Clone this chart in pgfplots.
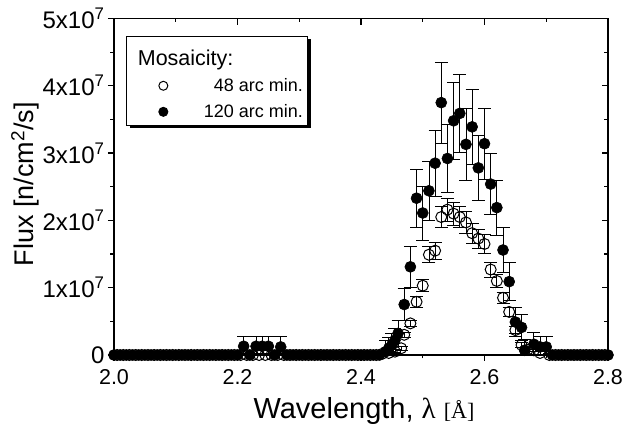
\documentclass[border=0pt]{standalone}
\usepackage{pgfplots}
\pgfplotsset{compat=1.18}
\usepackage{pgfplotstable}
\usepackage{fontspec}
\setmainfont{Liberation Sans}
\newfontfamily\seriffont{Liberation Serif}
\usetikzlibrary{shadows}

% 120 arc min (filled)
\pgfplotstableread{
x y e
2.00 0 3e5
2.01 0 3e5
2.02 0 3e5
2.03 0 3e5
2.04 0 3e5
2.05 0 3e5
2.06 0 3e5
2.07 0 3e5
2.08 0 3e5
2.09 0 3e5
2.10 0 3e5
2.11 0 3e5
2.12 0 3e5
2.13 0 3e5
2.14 0 3e5
2.15 0 3e5
2.16 0 3e5
2.17 0 3e5
2.18 0 3e5
2.19 0 3e5
2.20 0 3e5
2.21 1.3e6 1.5e6
2.22 0 3e5
2.23 1.3e6 1.5e6
2.24 1.3e6 1.5e6
2.25 1.3e6 1.5e6
2.26 0 3e5
2.27 1.2e6 1.5e6
2.28 0 3e5
2.29 0 3e5
2.30 0 3e5
2.31 0 3e5
2.32 0 3e5
2.33 0 3e5
2.34 0 3e5
2.35 0 3e5
2.36 0 3e5
2.37 0 3e5
2.38 0 3e5
2.39 0 3e5
2.40 0 3e5
2.41 0 3e5
2.42 0 3e5
2.43 0 3e5
2.44 5e5 1.6e6
2.445 1.0e6 1.6e6
2.45 1.5e6 1.7e6
2.455 2.2e6 1.8e6
2.46 3.2e6 1.9e6
2.47 7.5e6 2.4e6
2.48 1.31e7 3.1e6
2.49 2.33e7 4.3e6
2.50 2.11e7 4.0e6
2.51 2.44e7 4.4e6
2.52 2.85e7 4.9e6
2.53 3.75e7 6.0e6
2.54 2.92e7 5.0e6
2.55 3.48e7 5.7e6
2.56 3.59e7 5.8e6
2.57 3.13e7 5.3e6
2.58 3.39e7 5.6e6
2.59 2.78e7 4.8e6
2.60 3.14e7 5.3e6
2.61 2.54e7 4.5e6
2.62 2.19e7 4.1e6
2.63 1.56e7 3.4e6
2.64 1.09e7 2.8e6
2.65 4.9e6 2.1e6
2.66 4.1e6 2.0e6
2.665 7e5 1.6e6
2.68 1.6e6 1.7e6
2.69 1.2e6 1.6e6
2.70 1.2e6 1.6e6
2.71 0 3e5
2.72 0 3e5
2.73 0 3e5
2.74 0 3e5
2.75 0 3e5
2.76 0 3e5
2.77 0 3e5
2.78 0 3e5
2.79 0 3e5
2.80 0 3e5
}\filledtab

% 48 arc min (open)
\pgfplotstableread{
x y e
2.005 0 2e5
2.015 0 2e5
2.025 0 2e5
2.035 0 2e5
2.045 0 2e5
2.055 0 2e5
2.065 0 2e5
2.075 0 2e5
2.085 0 2e5
2.095 0 2e5
2.105 0 2e5
2.115 0 2e5
2.125 0 2e5
2.135 0 2e5
2.145 0 2e5
2.155 0 2e5
2.165 0 2e5
2.175 0 2e5
2.185 0 2e5
2.195 0 2e5
2.205 0 2e5
2.215 0 2e5
2.225 0 2e5
2.235 0 2e5
2.245 0 2e5
2.255 0 2e5
2.265 0 2e5
2.275 0 2e5
2.285 0 2e5
2.295 0 2e5
2.305 0 2e5
2.315 0 2e5
2.325 0 2e5
2.335 0 2e5
2.345 0 2e5
2.355 0 2e5
2.365 0 2e5
2.375 0 2e5
2.385 0 2e5
2.395 0 2e5
2.405 0 2e5
2.415 0 2e5
2.425 0 2e5
2.435 2e5 2e5
2.445 3e5 2e5
2.455 5e5 3e5
2.465 1.0e6 3e5
2.47 3.0e6 4e5
2.48 4.7e6 5e5
2.49 7.9e6 8e5
2.50 1.03e7 9e5
2.51 1.49e7 1.2e6
2.52 1.55e7 1.3e6
2.53 2.05e7 1.6e6
2.54 2.16e7 1.7e6
2.55 2.10e7 1.7e6
2.56 2.05e7 1.6e6
2.57 1.97e7 1.6e6
2.58 1.81e7 1.5e6
2.59 1.73e7 1.4e6
2.60 1.65e7 1.4e6
2.61 1.27e7 1.1e6
2.62 1.10e7 1.0e6
2.63 8.5e6 8e5
2.64 6.4e6 6e5
2.65 3.7e6 5e5
2.66 1.5e6 3e5
2.67 8e5 3e5
2.68 7e5 2e5
2.69 3e5 2e5
2.705 0 2e5
2.715 0 2e5
2.725 0 2e5
2.735 0 2e5
2.745 0 2e5
2.755 0 2e5
2.765 0 2e5
2.775 0 2e5
2.785 0 2e5
2.795 0 2e5
}\opentab

\begin{document}
\begin{tikzpicture}
\pgfplotsset{
  commonax/.style={
    scale only axis, width=494pt, height=336.5pt,
    xmin=2.0, xmax=2.8, ymin=0, ymax=5e7,
    xtick={2.0,2.2,2.4,2.6,2.8},
    minor xtick={2.1,2.3,2.5,2.7},
    ytick={0,1e7,2e7,3e7,4e7,5e7},
    minor ytick={0.5e7,1.5e7,2.5e7,3.5e7,4.5e7},
    scaled y ticks=false,
    major tick length=6pt, minor tick length=3.5pt,
    every tick/.style={black, line width=1.2pt},
    axis line style={line width=1.6pt},
  }
}
% top/right inward ticks
\begin{axis}[commonax, tick pos=right, tick align=inside,
  xticklabels={}, yticklabels={}]
\end{axis}
\begin{axis}[commonax, tick pos=left, tick align=outside,
  clip mode=individual,
  /pgf/number format/assume math mode=true,
  xticklabels={2.0,2.2,2.4,2.6,2.8},
  yticklabels={0,1x10\textsuperscript{7},2x10\textsuperscript{7},3x10\textsuperscript{7},4x10\textsuperscript{7},5x10\textsuperscript{7}},
  xticklabel style={font=\fontsize{21.5}{24}\selectfont, yshift=-5pt},
  yticklabel style={font=\fontsize{24}{26}\selectfont},
  xlabel={Wavelength, {\seriffont λ} {\seriffont\fontsize{22}{24}\selectfont [Å]}},
  ylabel={Flux [n/cm\textsuperscript{2}/s]},
  xlabel style={font=\fontsize{29}{32}\selectfont, at={(axis description cs:0.506,-0.165)}, anchor=center},
  ylabel style={font=\fontsize{27}{30}\selectfont, at={(axis description cs:-0.18,0.508)}, anchor=center},
  legend style={at={(axis description cs:0.025,0.948)}, anchor=north west,
    draw=black, line width=1pt, fill=white,
    drop shadow={shadow xshift=3pt, shadow yshift=-3pt, opacity=1, fill=black},
    font=\fontsize{18}{20}\selectfont, row sep=7.5pt,
    inner xsep=3pt, inner ysep=4pt,
    nodes={inner sep=2pt}},
  legend cell align=right,
  legend image code/.code={\path (-33pt,0pt) (38pt,0pt); \draw[#1] plot coordinates {(0pt,0pt)};},
]
\addplot[forget plot, only marks, mark=*, mark size=5.5pt, black,
  mark options={fill=black, line width=0.6pt},
  error bars/.cd, y dir=both, y explicit,
  error bar style={line width=0.8pt, black},
  error mark options={rotate=90, mark size=6.5pt, line width=0.8pt, black}]
  table[x=x, y=y, y error=e] {\filledtab};
\addplot[forget plot, only marks, mark=o, mark size=5.5pt, black,
  mark options={fill=white, line width=1pt},
  error bars/.cd, y dir=both, y explicit,
  error bar style={line width=0.8pt, black},
  error mark options={rotate=90, mark size=6.5pt, line width=0.8pt, black}]
  table[x=x, y=y, y error=e] {\opentab};
\addlegendimage{empty legend}
\addlegendentry{\raisebox{0pt}[23pt][0pt]{\rlap{\hspace*{-66pt}\fontsize{21.5}{24}\selectfont Mosaicity:}}\hphantom{120 arc min.}}
\addlegendimage{only marks, mark=o, mark size=4.5pt, black, mark options={fill=white, line width=1pt}}
\addlegendentry{48 arc min.}
\addlegendimage{only marks, mark=*, mark size=4.5pt, black}
\addlegendentry{120 arc min.}
\end{axis}
\pgfresetboundingbox
\path[use as bounding box] ([xshift=-114pt,yshift=-81pt]current axis.south west) rectangle ++(630pt,436pt);
\end{tikzpicture}
\end{document}
